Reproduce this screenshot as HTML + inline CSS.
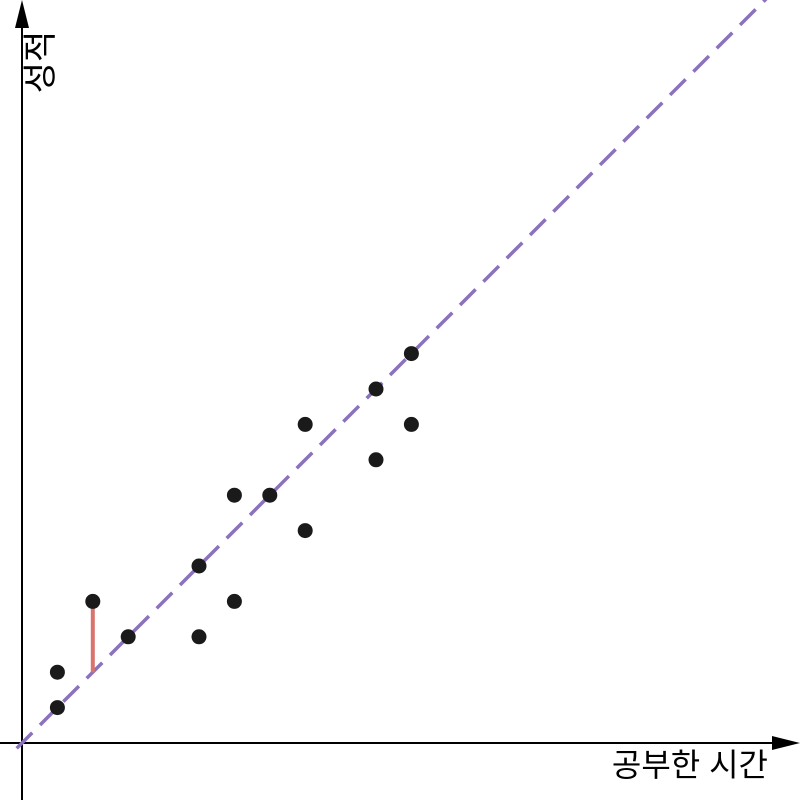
<!DOCTYPE html>
<html><head><meta charset="utf-8"><style>
html,body{margin:0;padding:0;background:#fff;}
svg{display:block;}
text{font-family:"Liberation Sans","Noto Sans CJK KR",sans-serif;}
</style></head><body>
<svg id="chart" width="800" height="800">
<g id="axes"></g>
<g id="marks"></g>
</svg>
<script>
const xs = [1,1,2,3,5,5,6,6,7,8,8,10,10,11,11];
const ys = [1,2,4,3,5,3,7,4,7,9,6,10,8,11,9];
const lineSlope = [1];
const lineIntercept = [0];
const residualX = [2];
const residualFrom = [2];
const residualTo = [4];
const xLabel = ["공부한 시간"];
const yLabel = ["성적"];

const ox = 22, oy = 743, unit = 35.4;
const sx = v => ox + v*unit;
const sy = v => oy - v*unit;
const NS = "http://www.w3.org/2000/svg";
function mk(tag, attrs, parent){
  const e = document.createElementNS(NS, tag);
  for (const k in attrs) e.setAttribute(k, attrs[k]);
  parent.appendChild(e);
  return e;
}
const axes = document.getElementById('axes');
const marks = document.getElementById('marks');

let xa = mk('line',{x1:0,y1:oy,x2:785,y2:oy,stroke:'#000','stroke-width':2},axes);


let xh = mk('polygon',{points:`800,${oy} 772,${oy-7} 772,${oy+7}`,fill:'#000'},axes);


let ya = mk('line',{x1:ox,y1:800,x2:ox,y2:15,stroke:'#000','stroke-width':2},axes);


let yh = mk('polygon',{points:`${ox},0 ${ox-7},28 ${ox+7},28`,fill:'#000'},axes);



const x0 = -0.15, x1 = 23;
let rl = mk('line',{x1:sx(x0),y1:sy(lineSlope[0]*x0+lineIntercept[0]),x2:sx(x1),y2:sy(lineSlope[0]*x1+lineIntercept[0]),stroke:'#8a72bd','stroke-width':3.5,'stroke-dasharray':'22,11'},marks);



residualX.forEach((v,i)=>{
  let r = mk('line',{x1:sx(v),y1:sy(residualFrom[i]),x2:sx(v),y2:sy(residualTo[i]),stroke:'#d9736e','stroke-width':4},marks);
  
  
});

xs.forEach((v,i)=>{
  let c = mk('circle',{cx:sx(v),cy:sy(ys[i]),r:7.5,fill:'#1a1a1a'},marks);
  
  
});

let xt = mk('text',{x:768,y:776,'font-size':32,'text-anchor':'end',fill:'#000'},axes);
xt.textContent = xLabel[0];


let yt = mk('text',{x:0,y:0,'font-size':34,'text-anchor':'middle',fill:'#000',transform:'translate(52,62) rotate(-90)'},axes);
yt.textContent = yLabel[0];


</script>
</body></html>
